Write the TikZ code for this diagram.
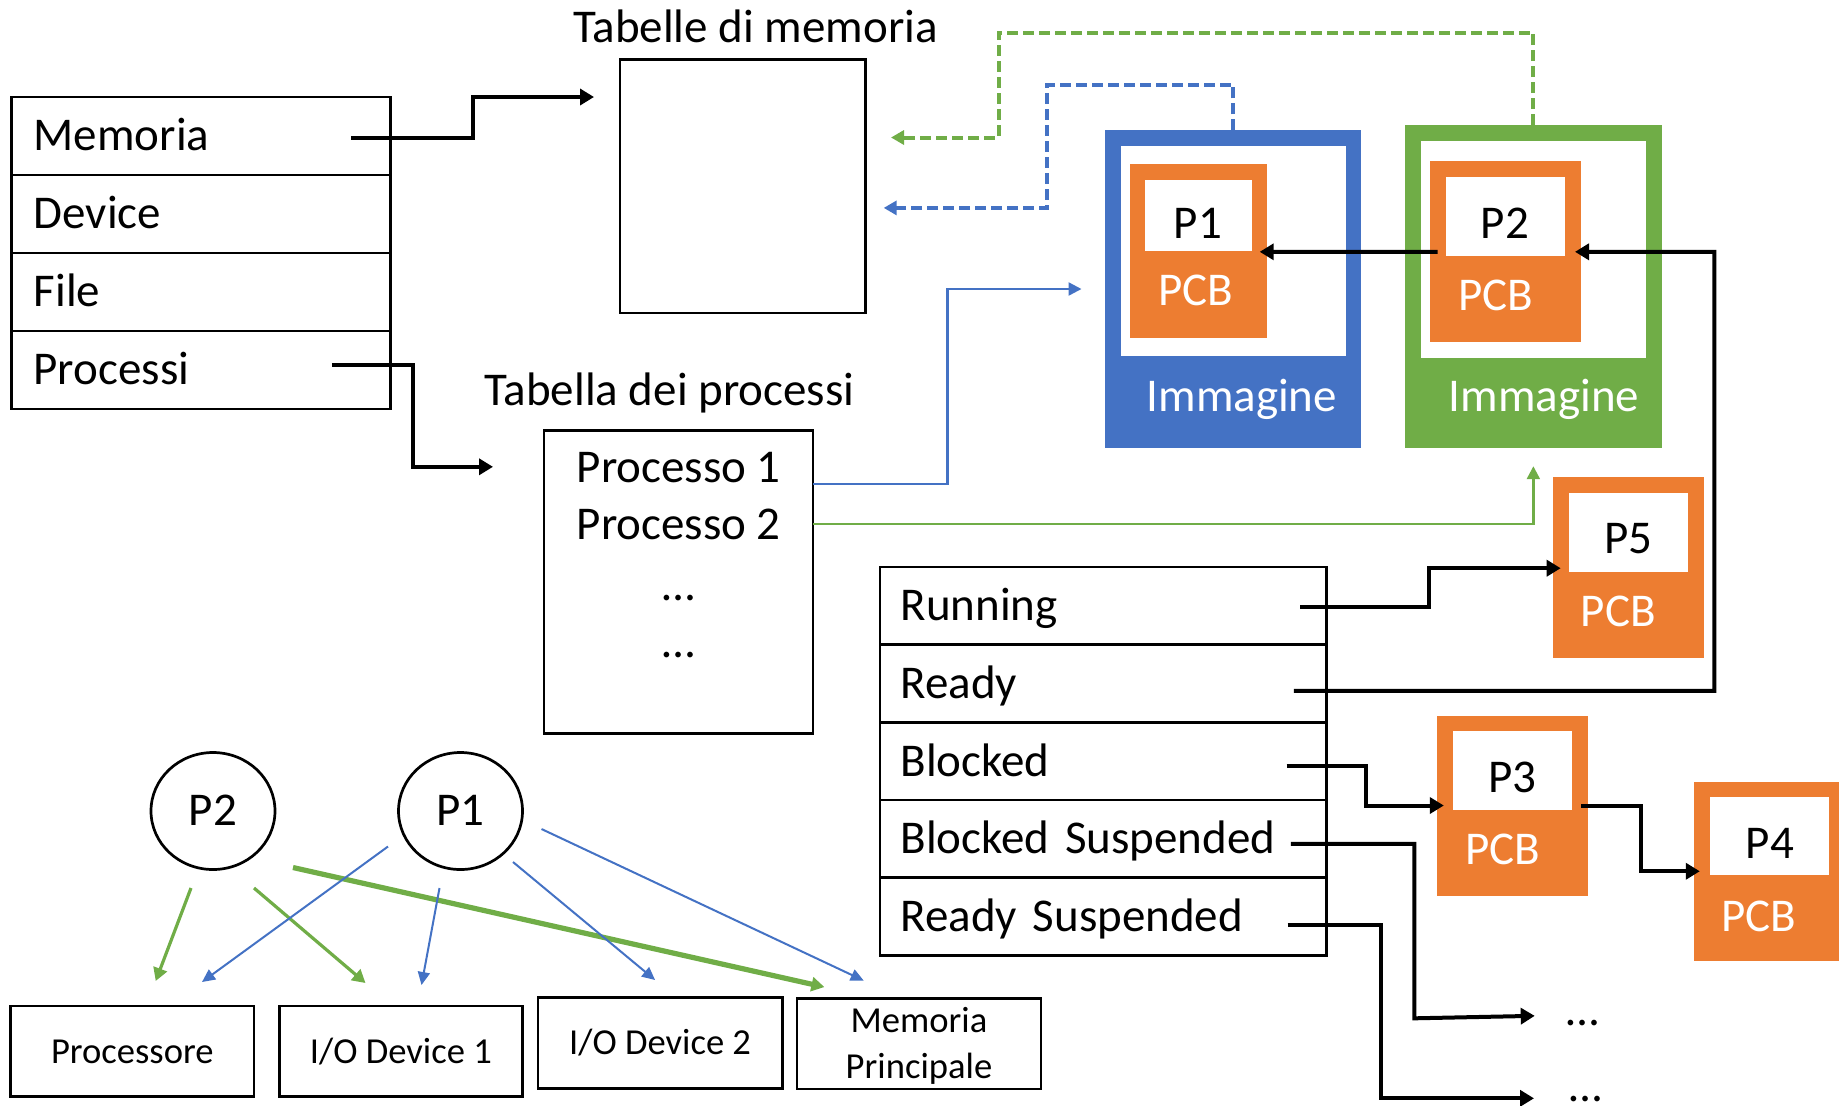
\documentclass[tikz,border=0pt]{standalone}
\usepackage{fontspec}
\setmainfont{Carlito}
\usetikzlibrary{arrows.meta,calc,shapes.geometric}
\definecolor{oblue}{HTML}{4472C4}
\definecolor{ogreen}{HTML}{70AD47}
\definecolor{oorange}{HTML}{ED7D31}
\newdimen\pxu \pxu=0.5pt
\begin{document}
\begin{tikzpicture}[x=0.5pt,y=-0.5pt,
  lbl/.style={font=\fontsize{23.5}{28}\selectfont},
  smalltxt/.style={font=\fontsize{18.3}{22.85}\selectfont},
  captxt/.style={text height=14.85pt, text depth=0pt},
  trow/.style={draw, line width=1.35pt, anchor=north west, outer sep=0pt, inner xsep=11pt, inner ysep=0pt, text width=167.25pt, align=left, minimum height=39pt, lbl, captxt},
  srow/.style={draw, line width=1.35pt, anchor=north west, outer sep=0pt, inner xsep=10.3pt, inner ysep=0pt, text width=202.6pt, align=left, minimum height=38.85pt, lbl, captxt},
  tframe/.style={draw, line width=1.35pt, anchor=north west, outer sep=0pt, inner sep=0pt},
  fillbox/.style={anchor=north west, outer sep=0pt, inner sep=0pt},
  bbox/.style={draw, line width=1.35pt, outer sep=0pt, inner sep=0pt, smalltxt, align=center, minimum height=90.8\pxu},
  circ/.style={draw, ellipse, line width=1.35pt, inner sep=0pt, minimum width=124\pxu, minimum height=117\pxu, lbl, captxt},
  blk/.style={line width=2pt, -{Triangle[length=7pt,width=8pt]}},
  bsol/.style={oblue, line width=1.2pt, -{Triangle[length=6.5pt,width=6.5pt]}},
  gsol/.style={ogreen, line width=1.2pt, -{Triangle[length=6.5pt,width=6.5pt]}},
  bdash/.style={oblue, line width=2pt, dash pattern=on 5.5pt off 2.5pt, -{Triangle[length=6.5pt,width=7pt]}},
  gdash/.style={ogreen, line width=2pt, dash pattern=on 5.5pt off 2.5pt, -{Triangle[length=6.5pt,width=7pt]}},
  bthin/.style={oblue, line width=1pt, -{Triangle[length=6.5pt,width=6pt]}},
  gmed/.style={ogreen, line width=1.6pt, -{Triangle[length=6.5pt,width=7pt]}},
  gthick/.style={ogreen, line width=2.6pt, -{Triangle[length=6.5pt,width=7pt]}}
]
\useasboundingbox (0,0) rectangle (1839,1105);

% left table
\node[trow] (mem) at (11.7,97) {Memoria};
\node[trow] (dev) at (mem.south west) {Device};
\node[trow] (fil) at (dev.south west) {File};
\node[trow] (prc) at (fil.south west) {Processi};

% memory table
\node[lbl, anchor=base] (ttl1) at (755.6,42) {Tabelle di memoria};
\node[tframe, minimum width=245.6\pxu, minimum height=253.3\pxu] (memtab) at (620,59.6) {};

% process table
\node[lbl, anchor=base] (ttl2) at (669.5,405.4) {Tabella dei processi};
\node[tframe, minimum width=269\pxu, minimum height=303\pxu] (ptab) at (544,430.4) {};
\node[lbl, anchor=base] (pr1) at (678.7,482) {Processo 1};
\node[lbl, anchor=base] (pr2) at (678.7,539) {Processo 2};
\node[lbl, anchor=base] (dt1) at (678.7,600) {…};
\node[lbl, anchor=base] (dt2) at (678.7,657) {…};

% blue image
\node[fillbox, fill=oblue, minimum width=256.6\pxu, minimum height=317.8\pxu] (imgb) at (1104.8,130.4) {};
\node[fillbox, fill=white, minimum width=224.8\pxu, minimum height=210\pxu] (imgbw) at (1121,146.4) {};
\node[fillbox, fill=oorange, minimum width=137.3\pxu, minimum height=173.6\pxu] (pcb1) at (1129.7,164.3) {};
\node[fillbox, fill=white, minimum width=106.2\pxu, minimum height=70.3\pxu] (p1w) at (1145.3,180.4) {};
\node[lbl, anchor=base] (p1t) at (1198,238.2) {P1};
\node[lbl, anchor=base, text=white] (pcb1t) at (1195.5,305.4) {PCB};
\node[lbl, anchor=base, text=white] (img1t) at (1241.8,411.4) {Immagine};

% green image
\node[fillbox, fill=ogreen, minimum width=256.7\pxu, minimum height=323.2\pxu] (imgg) at (1405,125) {};
\node[fillbox, fill=white, minimum width=224.2\pxu, minimum height=216.5\pxu] (imggw) at (1421.3,141) {};
\node[fillbox, fill=oorange, minimum width=151\pxu, minimum height=180.8\pxu] (pcb2) at (1430,161) {};
\node[fillbox, fill=white, minimum width=119.3\pxu, minimum height=78.7\pxu] (p2w) at (1445.7,177) {};
\node[lbl, anchor=base] (p2t) at (1505,238.6) {P2};
\node[lbl, anchor=base, text=white] (pcb2t) at (1495.6,310.7) {PCB};
\node[lbl, anchor=base, text=white] (img2t) at (1544,411.4) {Immagine};

% P5
\node[fillbox, fill=oorange, minimum width=151.6\pxu, minimum height=181\pxu] (pcb5) at (1552.7,477.3) {};
\node[fillbox, fill=white, minimum width=119\pxu, minimum height=79\pxu] (p5w) at (1569,493.3) {};
\node[lbl, anchor=base] (p5t) at (1628.3,553.3) {P5};
\node[lbl, anchor=base, text=white] (pcb5t) at (1618.3,626.7) {PCB};

% P3
\node[fillbox, fill=oorange, minimum width=151.5\pxu, minimum height=180\pxu] (pcb3) at (1436.5,715.5) {};
\node[fillbox, fill=white, minimum width=118.8\pxu, minimum height=78.6\pxu] (p3w) at (1453,731) {};
\node[lbl, anchor=base] (p3t) at (1512.5,792.3) {P3};
\node[lbl, anchor=base, text=white] (pcb3t) at (1503,864.3) {PCB};

% P4
\node[fillbox, fill=oorange, minimum width=145\pxu, minimum height=179.5\pxu] (pcb4) at (1694,781.5) {};
\node[fillbox, fill=white, minimum width=119.5\pxu, minimum height=78.5\pxu] (p4w) at (1709.5,796.5) {};
\node[lbl, anchor=base] (p4t) at (1770,858.9) {P4};
\node[lbl, anchor=base, text=white] (pcb4t) at (1759,931) {PCB};

% state table
\node[srow] (run) at (880,567) {Running};
\node[srow] (rdy) at (run.south west) {Ready};
\node[srow] (blkd) at (rdy.south west) {Blocked};
\node[srow] (bsus) at (blkd.south west) {Blocked Suspended};
\node[srow] (rsus) at (bsus.south west) {Ready Suspended};

\node[lbl, anchor=base] (dt3) at (1583,1025) {…};
\node[lbl, anchor=base, text depth=0pt, inner ysep=0pt] (dt4) at (1586,1101.5) {…};

% circles and resources
\node[circ] (c2) at (213,811) {P2};
\node[circ] (c1) at (460.5,811) {P1};
\node[bbox, minimum width=243.5\pxu, text height=11.6pt, text depth=0pt] (cpu) at (132.3,1051.4) {Processore};
\node[bbox, minimum width=243.4\pxu, text height=11.6pt, text depth=0pt] (io1) at (400.9,1051.4) {I/O Device 1};
\node[bbox, minimum width=244.2\pxu, text height=11.6pt, text depth=0pt] (io2) at (660.1,1043.1) {I/O Device 2};
\node[bbox, minimum width=244\pxu, minimum height=90.1\pxu, text height=34.45pt, text depth=0pt] (mp) at (919,1043.8) {Memoria\\Principale};

% black connectors
\coordinate (memin) at (594,97);
\draw[blk] ($(mem.east)+(-39,1.6)$) -| (473,97) -- (memin);
\coordinate (procin) at (493,466.8);
\draw[blk] ($(prc.east)+(-58.4,-5.2)$) -| (412.6,466.8) -- (procin);
\draw[blk] ($(p2w.south west)+(-8.2,-3.9)$) -- ($(p1w.south east)+(8.2,1.1)$);
\draw[blk] ($(rdy.east)+(-32.6,7.2)$) -| (1714.3,251.8) -- ($(p2w.south east)+(10,-3.9)$);
\draw[blk] ($(run.east)+(-26.4,0.9)$) -| ($(pcb5.west)+(-123.6,0.4)$) -- ($(pcb5.west)+(8,0.4)$);
\draw[blk] ($(blkd.east)+(-39.9,4.75)$) -| ($(pcb3.west)+(-70.7,0)$) -- ($(pcb3.west)+(7.3,0)$);
\draw[blk] ($(pcb3.east)+(-7,0)$) -| ($(pcb4.west)+(-53.5,0)$) -- ($(pcb4.west)+(5.8,0)$);
\draw[blk] ($(bsus.east)+(-35.6,4.85)$) -| (1414.4,1018.3) -- ($(dt3.west)+(-25,-6.7)$);
\coordinate (rsend) at (1534,1098.3);
\draw[blk] ($(rsus.east)+(-38.7,8.25)$) -| (1381.4,1098.3) -- (rsend);

% coloured connectors
\coordinate (imgbin) at (1081.5,289);
\draw[bsol] ($(ptab.north east)+(0,53.6)$) -| (947.5,289) -- (imgbin);
\draw[gsol] ($(ptab.north east)+(0,93.6)$) -| ($(imgg.south)+(0,18)$);
\coordinate (mtb) at (883.7,207.9);
\draw[bdash] (imgb.north) |- (1047.3,84.6) |- (mtb);
\coordinate (mtg) at (891,137.5);
\draw[gdash] (imgg.north) |- (998.6,32.5) |- (mtg);

% resource arrows
\draw[gmed] ($(c2)+(-22,77)$) -- ($(cpu.north)+(23.4,-25)$);
\draw[gmed] ($(c2)+(41,77)$) -- ($(io1.north)+(-35.4,-23)$);
\draw[gthick] ($(c2)+(80,56.5)$) -- ($(mp.north)+(-94.6,-11.7)$);
\draw[bthin] ($(c1)+(-72.5,35.5)$) -- ($(cpu.north)+(69.7,-24)$);
\draw[bthin] ($(c1)+(-21,77)$) -- ($(io1.north)+(20.6,-21)$);
\draw[bthin] ($(c1)+(52.5,51)$) -- ($(io2.north)+(-5,-17.7)$);
\draw[bthin] ($(c1)+(81,18)$) -- ($(mp.north)+(-55.3,-18.2)$);
\end{tikzpicture}
\end{document}
